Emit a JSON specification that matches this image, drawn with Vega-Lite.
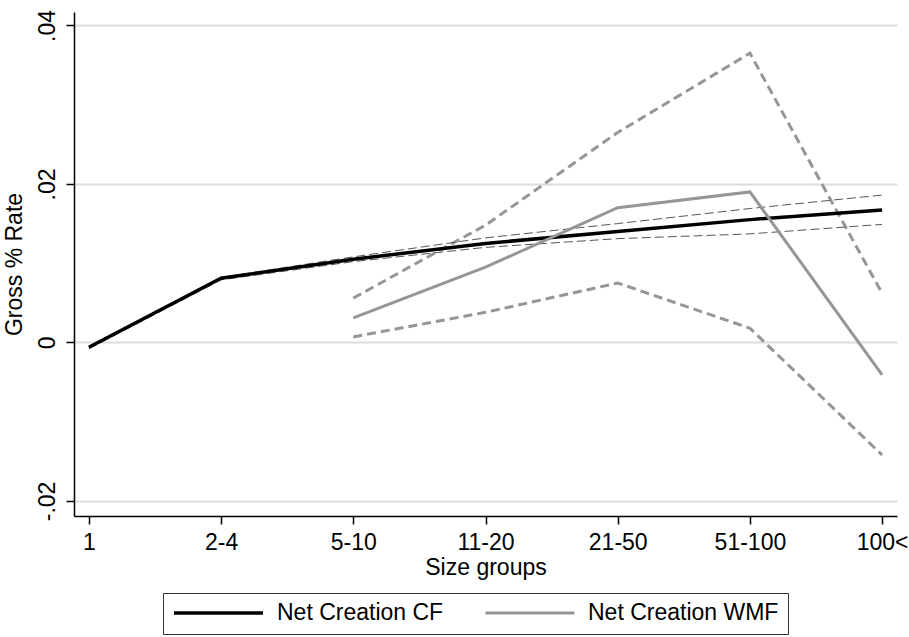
{
  "$schema": "https://vega.github.io/schema/vega-lite/v6.json",
  "autosize": {"type": "none"},
  "width": 823,
  "height": 504,
  "padding": {"left": 74, "top": 12, "right": 12, "bottom": 121},
  "background": "white",
  "config": {
    "font": "Liberation Sans",
    "view": {"stroke": null},
    "axis": {
      "labelFontSize": 23,
      "titleFontSize": 23,
      "titleFontWeight": "normal",
      "labelColor": "black",
      "titleColor": "black",
      "domainColor": "black",
      "domainWidth": 1.5,
      "tickColor": "black",
      "tickWidth": 1.5,
      "tickSize": 8
    }
  },
  "data": {
    "values": [
      {"size": "1", "series": "Net Creation CF", "value": -0.0006},
      {"size": "2-4", "series": "Net Creation CF", "value": 0.0081},
      {"size": "5-10", "series": "Net Creation CF", "value": 0.0105},
      {"size": "11-20", "series": "Net Creation CF", "value": 0.0125},
      {"size": "21-50", "series": "Net Creation CF", "value": 0.0140},
      {"size": "51-100", "series": "Net Creation CF", "value": 0.0155},
      {"size": "100<", "series": "Net Creation CF", "value": 0.0167},
      {"size": "1", "series": "CF upper", "value": -0.0005},
      {"size": "2-4", "series": "CF upper", "value": 0.0082},
      {"size": "5-10", "series": "CF upper", "value": 0.0108},
      {"size": "11-20", "series": "CF upper", "value": 0.0132},
      {"size": "21-50", "series": "CF upper", "value": 0.0150},
      {"size": "51-100", "series": "CF upper", "value": 0.0169},
      {"size": "100<", "series": "CF upper", "value": 0.0186},
      {"size": "1", "series": "CF lower", "value": -0.0008},
      {"size": "2-4", "series": "CF lower", "value": 0.0079},
      {"size": "5-10", "series": "CF lower", "value": 0.0102},
      {"size": "11-20", "series": "CF lower", "value": 0.0120},
      {"size": "21-50", "series": "CF lower", "value": 0.0131},
      {"size": "51-100", "series": "CF lower", "value": 0.0137},
      {"size": "100<", "series": "CF lower", "value": 0.0149},
      {"size": "5-10", "series": "Net Creation WMF", "value": 0.0031},
      {"size": "11-20", "series": "Net Creation WMF", "value": 0.0095},
      {"size": "21-50", "series": "Net Creation WMF", "value": 0.0170},
      {"size": "51-100", "series": "Net Creation WMF", "value": 0.0190},
      {"size": "100<", "series": "Net Creation WMF", "value": -0.0041},
      {"size": "5-10", "series": "WMF upper", "value": 0.0056},
      {"size": "11-20", "series": "WMF upper", "value": 0.0148},
      {"size": "21-50", "series": "WMF upper", "value": 0.0265},
      {"size": "51-100", "series": "WMF upper", "value": 0.0365},
      {"size": "100<", "series": "WMF upper", "value": 0.0062},
      {"size": "5-10", "series": "WMF lower", "value": 0.0007},
      {"size": "11-20", "series": "WMF lower", "value": 0.0038},
      {"size": "21-50", "series": "WMF lower", "value": 0.0075},
      {"size": "51-100", "series": "WMF lower", "value": 0.0018},
      {"size": "100<", "series": "WMF lower", "value": -0.0142}
    ]
  },
  "encoding": {
    "x": {
      "field": "size",
      "type": "ordinal",
      "sort": ["1", "2-4", "5-10", "11-20", "21-50", "51-100", "100<"],
      "scale": {"type": "point", "padding": 0.1126},
      "axis": {
        "title": "Size groups",
        "labelAngle": 0,
        "labelPadding": 7,
        "titlePadding": 2,
        "grid": false
      }
    },
    "y": {
      "field": "value",
      "type": "quantitative",
      "scale": {"domain": [-0.0219, 0.0417], "nice": false, "zero": false},
      "axis": {
        "title": "Gross % Rate",
        "values": [-0.02, 0, 0.02, 0.04],
        "labelExpr": "datum.value == 0 ? '0' : (datum.value < 0 ? '-' : '') + replace(format(abs(datum.value), '.2f'), '0.', '.')",
        "labelAngle": -90,
        "labelAlign": "center",
        "labelBaseline": "bottom",
        "labelPadding": 7,
        "titlePadding": 10,
        "grid": true,
        "gridColor": "#dcdcdc",
        "gridWidth": 2
      }
    }
  },
  "layer": [
    {
      "transform": [{"filter": {"field": "series", "oneOf": ["WMF upper", "WMF lower"]}}],
      "mark": {"type": "line", "color": "#969696", "strokeWidth": 3, "strokeDash": [9, 5]},
      "encoding": {"detail": {"field": "series"}}
    },
    {
      "transform": [{"filter": {"field": "series", "oneOf": ["CF upper", "CF lower"]}}],
      "mark": {"type": "line", "color": "#555555", "strokeWidth": 1, "strokeDash": [9, 4]},
      "encoding": {"detail": {"field": "series"}}
    },
    {
      "transform": [{"filter": {"field": "series", "oneOf": ["Net Creation CF", "Net Creation WMF"]}}],
      "mark": {"type": "line"},
      "encoding": {
        "color": {
          "field": "series",
          "type": "nominal",
          "scale": {"domain": ["Net Creation CF", "Net Creation WMF"], "range": ["#000000", "#969696"]},
          "legend": {
            "title": null,
            "orient": "none",
            "legendX": 89,
            "legendY": 581,
            "direction": "horizontal",
            "symbolType": "stroke",
            "symbolSize": 7921,
            "symbolStrokeWidth": 3,
            "clipHeight": 22,
            "labelFontSize": 23,
            "labelLimit": 400,
            "labelColor": "black",
            "labelOffset": 12,
            "columnPadding": 40,
            "padding": 9,
            "strokeColor": "#333333"
          }
        },
        "strokeWidth": {
          "field": "series",
          "type": "nominal",
          "scale": {"domain": ["Net Creation CF", "Net Creation WMF"], "range": [3.5, 3]},
          "legend": null
        }
      }
    }
  ]
}
